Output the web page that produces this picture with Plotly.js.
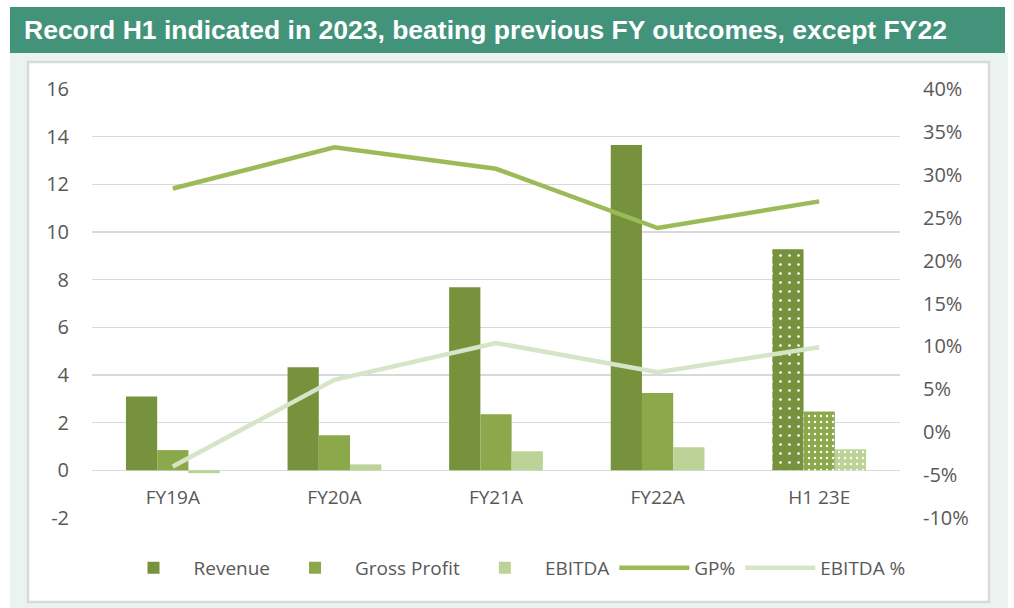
<!DOCTYPE html>
<html><head><meta charset="utf-8">
<script src="https://cdn.plot.ly/plotly-3.0.1.min.js"></script>
<style>html,body{margin:0;padding:0;background:#fff;}#chart{width:1014px;height:608px;}</style>
</head><body><div id="chart"></div>
<script>
var categories = ['FY19A', 'FY20A', 'FY21A', 'FY22A', 'H1 23E'];
var revenue = [3.1, 4.33, 7.68, 13.65, 9.28];
var grossProfit = [0.85, 1.47, 2.35, 3.24, 2.47];
var ebitda = [-0.12, 0.25, 0.8, 0.97, 0.88];
var gpPct = [28.4, 33.2, 30.7, 23.8, 26.9];
var ebitdaPct = [-4.0, 6.1, 10.4, 7.0, 9.9];
var patternShapes = ['', '', '', '', '.'];
var leftTickVals = [-2, 0, 2, 4, 6, 8, 10, 12, 14, 16];
var leftTickText = ['-2', '0', '2', '4', '6', '8', '10', '12', '14', '16'];
var rightTickVals = [-10, -5, 0, 5, 10, 15, 20, 25, 30, 35, 40];
var rightTickText = ['-10%', '-5%', '0%', '5%', '10%', '15%', '20%', '25%', '30%', '35%', '40%'];

var W = 1014, H = 608, L = 92, R = 900, T = 89, B = 518;
function px(x){ return (x - L) / (R - L); }
function py(y){ return (B - y) / (B - T); }

var font = '"Open Sans", sans-serif';
function barTrace(name, vals, color, size, sol){
  return {type:'bar', name:name, x:categories, y:vals,
    marker:{color:color, line:{width:0},
      pattern:{shape:patternShapes, fgcolor:'#ffffff', bgcolor:color, fillmode:'replace', size:size, solidity:sol}},
    hoverinfo:'x+y+name'};
}
var data = [
  barTrace('Revenue', revenue, '#76923c', 9, 0.07),
  barTrace('Gross Profit', grossProfit, '#8ba84b', 6, 0.12),
  barTrace('EBITDA', ebitda, '#bcd398', 6, 0.12),
  {type:'scatter', mode:'lines', name:'GP%', x:categories, y:gpPct, yaxis:'y2',
    line:{color:'#9bbb59', width:4.5}},
  {type:'scatter', mode:'lines', name:'EBITDA %', x:categories, y:ebitdaPct, yaxis:'y2',
    line:{color:'#d6e4c8', width:4.5}}
];

var layout = {
  width:W, height:H,
  margin:{l:L, r:W-R, t:T, b:H-B, pad:0},
  paper_bgcolor:'#ffffff', plot_bgcolor:'rgba(0,0,0,0)',
  font:{family:font, color:'#595959', size:18},
  title:{text:'Record H1 indicated in 2023, beating previous FY outcomes, except FY22',
    xref:'container', yref:'container', x:24/W, xanchor:'left', y:1-30/H, yanchor:'middle',
    font:{family:'"Liberation Sans", Arial, sans-serif', size:26.5, color:'#ffffff', weight:'bold'}},
  barmode:'group', bargap:0.42, bargroupgap:0,
  showlegend:true,
  legend:{orientation:'h', x:px(512), xanchor:'center', y:py(549), yanchor:'top', itemwidth:70,
    font:{family:font, size:19, color:'#595959'}, bgcolor:'rgba(0,0,0,0)', traceorder:'normal'},
  xaxis:{type:'category', anchor:'free', position:py(470), showgrid:false, zeroline:false, showline:false, ticks:'',
    tickfont:{family:font, size:19, color:'#595959'}, ticklabelstandoff:14},
  yaxis:{range:[-2,16], tickmode:'array', tickvals:leftTickVals, ticktext:leftTickText,
    showgrid:true, gridcolor:'#d9d9d9', gridwidth:1.5,
    zeroline:false, showline:false, ticks:'', tickfont:{family:font, size:20, color:'#595959'},
    ticklabelstandoff:22},
  yaxis2:{overlaying:'y', side:'right', range:[-10,40], tickmode:'array', tickvals:rightTickVals, ticktext:rightTickText,
    showgrid:false, zeroline:false, showline:false, ticks:'',
    tickfont:{family:font, size:20, color:'#595959'}, ticklabelstandoff:22},
  shapes:[
    {type:'rect', xref:'paper', yref:'paper', layer:'below',
      x0:px(10), x1:px(1008), y0:py(53), y1:py(612), fillcolor:'#eaf3f0', line:{width:0}},
    {type:'rect', xref:'paper', yref:'paper', layer:'below',
      x0:px(10), x1:px(1005), y0:py(7), y1:py(53), fillcolor:'#43937b', line:{width:0}},
    {type:'rect', xref:'paper', yref:'paper', layer:'below',
      x0:px(28), x1:px(989), y0:py(62), y1:py(602), fillcolor:'#ffffff', line:{color:'#d9d9d9', width:2.5}}
  ]
};
Plotly.newPlot('chart', data, layout, {displayModeBar:false, staticPlot:true});
</script></body></html>
